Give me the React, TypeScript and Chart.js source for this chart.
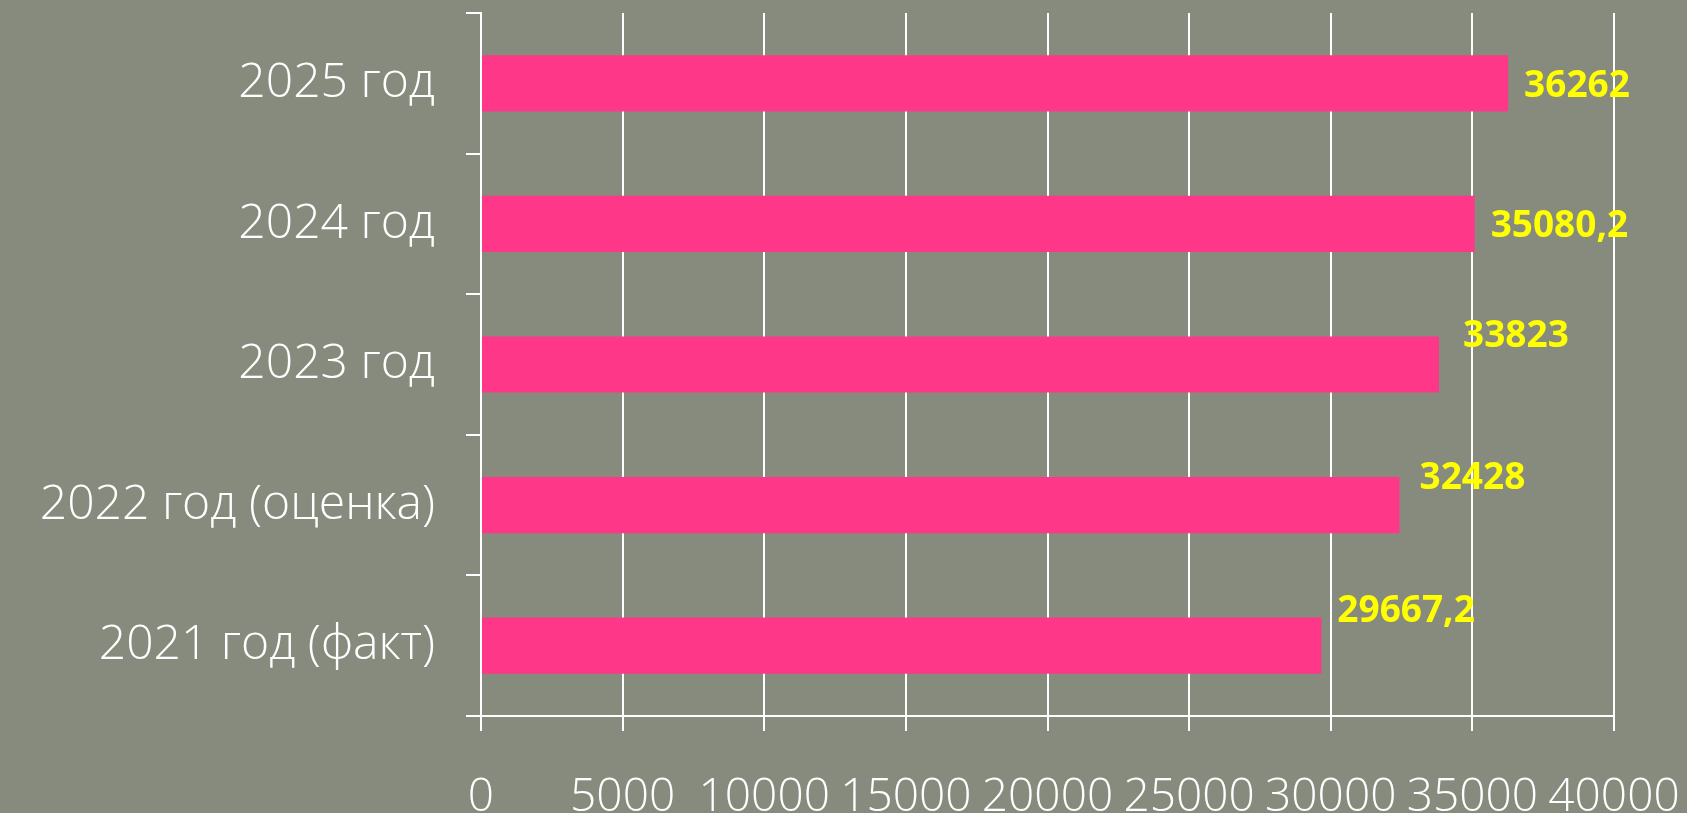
import React, { useEffect, useRef } from 'react';
import { Chart, registerables } from 'chart.js';

Chart.register(...registerables);

const categories = ['2025 год', '2024 год', '2023 год', '2022 год (оценка)', '2021 год (факт)'];
const values = [36262, 35080.2, 33823, 32428, 29667.2];
const valueLabels = ['36262', '35080,2', '33823', '32428', '29667,2'];
const xMin = 0;
const xMax = 40000;
const xStep = 5000;
// label nudges (px) relative to the bar end / bar centre
const labelNudgeX = [16, 16, 24, 20, 16];
const labelNudgeY = [3, 3, -28, -27, -34];

const BG = 'rgb(135,139,125)';
const BAR = '#FF3789';
const FONT = '"Open Sans", "Liberation Sans", sans-serif';

const valueLabelPlugin = {
  id: 'valueLabels',
  afterDatasetsDraw(chart: any) {
    const ctx = chart.ctx;
    const meta = chart.getDatasetMeta(0);
    ctx.save();
    ctx.fillStyle = '#FFFF00';
    ctx.font = `bold 37px ${FONT}`;
    ctx.textAlign = 'left';
    ctx.textBaseline = 'middle';
    meta.data.forEach((el: any, i: number) => {
      ctx.fillText(valueLabels[i], el.x + labelNudgeX[i], el.y + labelNudgeY[i]);
    });
    ctx.restore();
  },
};

export default function App() {
  const ref = useRef<HTMLCanvasElement | null>(null);
  useEffect(() => {
    document.body.style.margin = '0';
    const canvas = ref.current;
    if (!canvas) return;
    const chart = new Chart(canvas, {
      type: 'bar',
      data: {
        labels: categories,
        datasets: [
          {
            data: values,
            backgroundColor: BAR,
            borderWidth: 0,
            barPercentage: 0.4,
            categoryPercentage: 1,
          },
        ],
      },
      options: {
        indexAxis: 'y',
        responsive: false,
        animation: false,
        devicePixelRatio: 1,
        layout: { padding: { top: 13, right: 73, left: 0, bottom: 0 } },
        plugins: {
          legend: { display: false },
          tooltip: { enabled: false },
        },
        scales: {
          x: {
            min: xMin,
            max: xMax,
            ticks: {
              stepSize: xStep,
              color: '#ffffff',
              font: { family: FONT, size: 46, weight: '300' as any },
              padding: 39,
              maxRotation: 0,
              autoSkip: false,
              callback: (v: any) => String(v),
            },
            grid: { color: '#ffffff', lineWidth: 2, tickLength: 15, drawTicks: true },
            border: { color: '#ffffff', width: 2 },
            afterFit: (s: any) => {
              s.height = 97;
              s.paddingLeft = 0;
              s.paddingRight = 0;
            },
          },
          y: {
            ticks: {
              color: '#ffffff',
              font: { family: FONT, size: 48, weight: '300' as any },
              padding: 31,
            },
            grid: {
              drawOnChartArea: false,
              color: '#ffffff',
              lineWidth: 2,
              tickLength: 15,
              offset: true,
            },
            border: { color: '#ffffff', width: 2 },
            afterFit: (s: any) => {
              s.width = 481;
              s.paddingTop = 0;
              s.paddingBottom = 0;
            },
          },
        },
      },
      plugins: [valueLabelPlugin],
    });
    return () => chart.destroy();
  }, []);

  return (
    <div style={{ position: 'fixed', left: 0, top: 0, width: 1687, height: 813, background: BG }}>
      <canvas ref={ref} width={1687} height={813} style={{ width: 1687, height: 813, display: 'block' }} />
    </div>
  );
}
